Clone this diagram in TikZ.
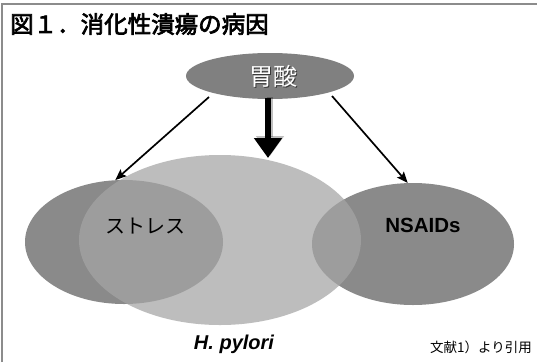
\documentclass[tikz,border=0pt]{standalone}
\usepackage{fontspec}
\setmainfont{Liberation Sans}
\newfontfamily\jp{Noto Sans CJK JP}
\newfontfamily\jpt{Noto Sans CJK JP}[FakeBold=3]
\usetikzlibrary{arrows.meta,shapes.geometric}
\definecolor{framec}{RGB}{140,140,140}
\definecolor{sidec}{RGB}{138,138,138}
\definecolor{bigc}{RGB}{165,165,165}
\definecolor{topc}{RGB}{128,128,128}
\begin{document}
\begin{tikzpicture}[x=1pt,y=-1pt,
  oval/.style={ellipse, inner sep=0pt, draw=none},
  sideoval/.style={oval, fill=sidec},
  bigoval/.style={oval, fill=bigc, fill opacity=0.735},
  topoval/.style={oval, fill=topc},
  thinarrow/.style={line width=1.7pt, -{Stealth[length=11pt,width=9pt,inset=2pt]}},
  bigarrow/.style={line width=6pt, -{Triangle[width=27pt,length=20pt]}},
  jplabel/.style={font=\jp\fontsize{20}{20}\selectfont, inner sep=0pt},
  enlabel/.style={font=\bfseries\fontsize{20.5}{20.5}\selectfont, inner sep=0pt}
]
\useasboundingbox (0,0) rectangle (537,362);
\fill[white] (0,0) rectangle (537,362);
% frame
\draw[framec, line width=1.8pt] (2,362) -- (2,4) -- (537,4);
% title
\node[anchor=west, inner sep=0pt, font=\jpt\fontsize{23.5}{23.5}\selectfont] (title) at (10,24) {図１．消化性潰瘍の病因};
% ellipses
\node[sideoval, minimum width=198pt, minimum height=124pt] (stress) at (124,242) {};
\node[sideoval, minimum width=202pt, minimum height=122pt] (nsaid) at (413,244) {};
\node[bigoval, minimum width=282pt, minimum height=170pt] (hp) at (220,240) {};
\node[topoval, minimum width=168pt, minimum height=46pt] (acid) at (270,76) {};
% labels
\node[font=\jp\fontsize{24}{24}\selectfont, text=black, opacity=0.55, inner sep=0pt] (acidshadow) at (274.2,77.2) {胃酸};
\node[font=\jp\fontsize{24}{24}\selectfont, text=white, inner sep=0pt] (acidtext) at (273,76) {胃酸};
\node[jplabel] (stresstext) at (145,226) {ストレス};
\node[enlabel] (nsaidtext) at (423,225) {NSAIDs};
\node[font=\bfseries\itshape\fontsize{20}{20}\selectfont, inner sep=0pt] (hptext) at (234,344) {H. pylori};
\node[anchor=east, inner sep=0pt, font=\jp\fontsize{13.5}{13.5}\selectfont] (ref) at (532,347) {文献1）より引用};
% arrows
\coordinate (aL) at (209,97);
\coordinate (aR) at (332,96);
\coordinate (tA) at (268,158);
\draw[thinarrow] (aL) -- (stress.98);
\draw[thinarrow] (aR) -- (nsaid.95);
\draw[bigarrow, black, opacity=0.25] ([xshift=2pt,yshift=2pt]acid.south -| tA) -- ([xshift=2pt,yshift=2pt]tA);
\draw[bigarrow] ([yshift=1pt]acid.south -| tA) -- (tA);
\end{tikzpicture}
\end{document}
